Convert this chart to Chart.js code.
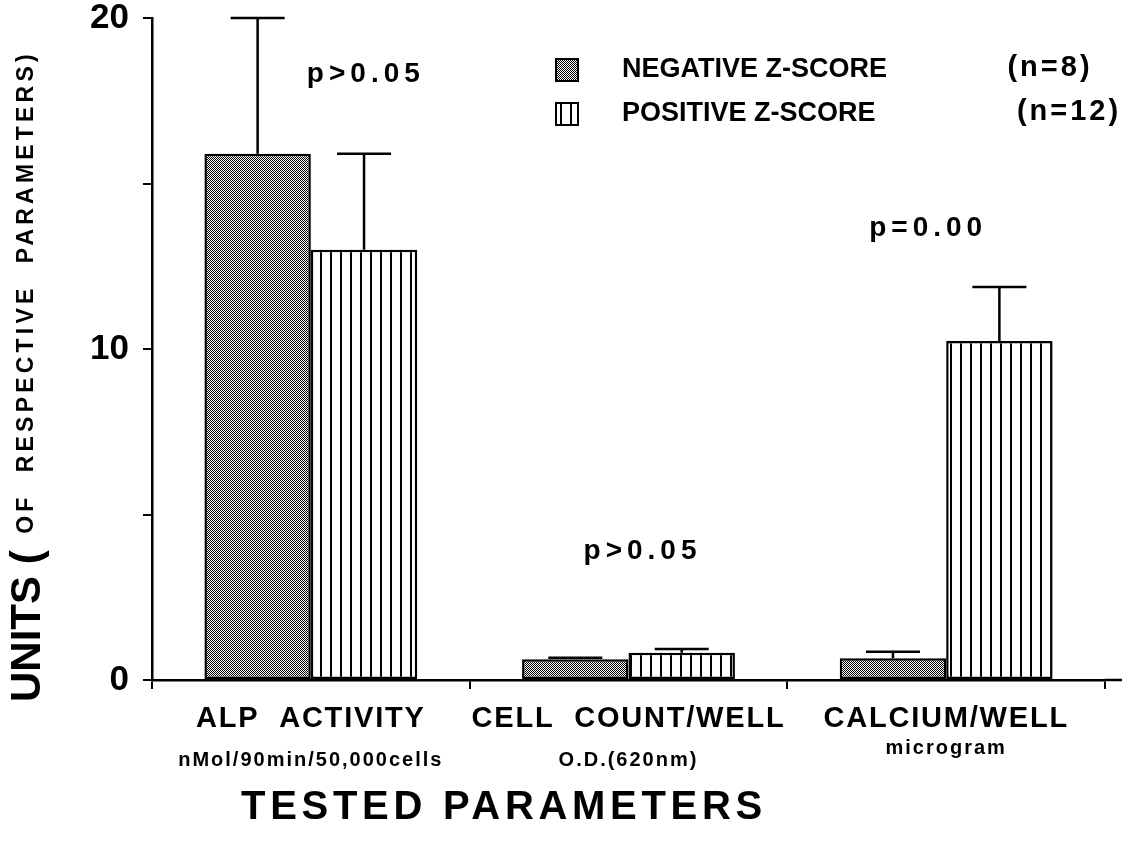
<!DOCTYPE html>
<html>
<head>
<meta charset="utf-8">
<script src="https://cdn.jsdelivr.net/npm/chart.js@4.4.1/dist/chart.umd.min.js"></script>
<style>
  html, body { margin: 0; padding: 0; background: #fff; }
  #wrap { width: 1139px; height: 845px; }
</style>
</head>
<body>
<div id="wrap"><canvas id="chart" width="1139" height="845"></canvas></div>
<script>
// values
const categories = ['ALP  ACTIVITY', 'CELL  COUNT/WELL', 'CALCIUM/WELL'];
const unitLabels = ['nMol/90min/50,000cells', 'O.D.(620nm)', 'microgram'];
const seriesNames = ['NEGATIVE Z-SCORE', 'POSITIVE Z-SCORE'];
const seriesN = ['(n=8)', '(n=12)'];
const negMean = [15.9, 0.63, 0.66];
const negErr = [4.1, 0.04, 0.19];
const posMean = [13.0, 0.82, 10.24];
const posErr = [2.9, 0.12, 1.63];
const pLabels = ['p>0.05', 'p>0.05', 'p=0.00'];
const pLabelY = [18.3, 3.9, 13.65];
const yTicks = [0, 10, 20];

const BOLD = '"Liberation Sans", Arial, Helvetica, sans-serif';

function makeChecker() {
  const c = document.createElement('canvas');
  c.width = 2; c.height = 2;
  const g = c.getContext('2d');
  g.fillStyle = '#fff'; g.fillRect(0, 0, 2, 2);
  g.fillStyle = '#000';
  g.fillRect(0, 0, 1, 1); g.fillRect(1, 1, 1, 1);
  return c;
}
function makeStripes() {
  const c = document.createElement('canvas');
  c.width = 10; c.height = 4;
  const g = c.getContext('2d');
  g.fillStyle = '#fff'; g.fillRect(0, 0, 10, 4);
  g.fillStyle = '#000'; g.fillRect(0, 0, 2, 4);
  return c;
}

const ctx = document.getElementById('chart').getContext('2d');
const checker = ctx.createPattern(makeChecker(), 'repeat');
const stripes = ctx.createPattern(makeStripes(), 'repeat');

function spacedText(g, text, x, y, spacing) {
  if ('letterSpacing' in g) {
    g.letterSpacing = spacing + 'px';
    g.fillText(text, x, y);
    g.letterSpacing = '0px';
  } else {
    g.fillText(text, x, y);
  }
}

const errorBars = {
  id: 'errorBars',
  afterDatasetsDraw(chart) {
    const g = chart.ctx;
    const y = chart.scales.y;
    const errs = [negErr, posErr];
    g.save();
    g.strokeStyle = '#000';
    g.lineWidth = 2.5;
    chart.data.datasets.forEach((ds, i) => {
      chart.getDatasetMeta(i).data.forEach((bar, j) => {
        const top = y.getPixelForValue(ds.data[j] + errs[i][j]);
        g.beginPath();
        g.moveTo(bar.x, bar.y);
        g.lineTo(bar.x, top);
        g.moveTo(bar.x - 27, top);
        g.lineTo(bar.x + 27, top);
        g.stroke();
      });
    });
    g.restore();
  }
};

const decorations = {
  id: 'decorations',
  afterDraw(chart) {
    const g = chart.ctx;
    const x = chart.scales.x;
    const y = chart.scales.y;
    const area = chart.chartArea;
    g.save();
    g.fillStyle = '#000';

    // x axis runs a little past the last category
    g.strokeStyle = '#000';
    g.lineWidth = 2.5;
    g.beginPath();
    g.moveTo(area.right, area.bottom);
    g.lineTo(area.right + 17, area.bottom);
    g.stroke();

    // category labels
    g.textAlign = 'center';
    g.textBaseline = 'middle';
    categories.forEach((c, i) => {
      const cx = x.getPixelForValue(i);
      g.font = 'bold 29px ' + BOLD;
      spacedText(g, c, cx, area.bottom + 39, 1.8);
      g.font = 'bold 20px ' + BOLD;
      spacedText(g, unitLabels[i], cx, area.bottom + (i === 2 ? 68 : 80), 2);
    });

    // axis titles
    g.font = 'bold 40px ' + BOLD;
    spacedText(g, 'TESTED PARAMETERS', 504, 808, 4.7);

    g.save();
    g.translate(28, 702);
    g.rotate(-Math.PI / 2);
    g.textAlign = 'left';
    g.font = 'bold 42px ' + BOLD;
    const big = 'UNITS (';
    spacedText(g, big, 0, 0, 0);
    const w = g.measureText(big).width;
    g.font = 'bold 23px ' + BOLD;
    spacedText(g, ' OF  RESPECTIVE  PARAMETERS)', w + 6, -1, 4.2);
    g.restore();

    // p values
    g.font = 'bold 28px ' + BOLD;
    const pOffset = [55, 14, -18];
    pLabels.forEach((p, i) => {
      spacedText(g, p, x.getPixelForValue(i) + pOffset[i], y.getPixelForValue(pLabelY[i]), 5);
    });

    // legend
    const fills = [checker, stripes];
    const rows = [70, 114];
    const nX = [1050, 1069];
    g.textAlign = 'left';
    seriesNames.forEach((name, i) => {
      const ry = rows[i];
      g.fillStyle = fills[i];
      g.fillRect(556, ry - 11, 22, 22);
      g.lineWidth = 2;
      g.strokeStyle = '#000';
      g.strokeRect(556, ry - 11, 22, 22);
      g.fillStyle = '#000';
      g.font = 'bold 27px ' + BOLD;
      spacedText(g, name, 622, ry, 0);
      g.textAlign = 'center';
      g.font = 'bold 29px ' + BOLD;
      spacedText(g, seriesN[i], nX[i], ry - 2, 3);
      g.textAlign = 'left';
    });
    g.restore();
  }
};

new Chart(ctx, {
  type: 'bar',
  data: {
    labels: categories,
    datasets: [
      {
        label: seriesNames[0],
        data: negMean,
        backgroundColor: checker,
        borderColor: '#000',
        borderWidth: 2.5,
        borderSkipped: false
      },
      {
        label: seriesNames[1],
        data: posMean,
        backgroundColor: stripes,
        borderColor: '#000',
        borderWidth: 2.5,
        borderSkipped: false
      }
    ]
  },
  options: {
    responsive: false,
    animation: false,
    devicePixelRatio: 1,
    layout: { padding: { left: 0, right: 34, top: 18, bottom: 0 } },
    datasets: {
      bar: { categoryPercentage: 0.67, barPercentage: 1.0 }
    },
    plugins: {
      legend: { display: false },
      tooltip: { enabled: false }
    },
    scales: {
      x: {
        grid: {
          display: true,
          offset: true,
          drawOnChartArea: false,
          drawTicks: true,
          tickLength: 9,
          color: '#000',
          lineWidth: 2
        },
        border: { display: true, color: '#000', width: 2.5 },
        ticks: { callback: () => '', padding: 0 },
        afterFit(scale) {
          scale.height = 165;
          scale.paddingLeft = 0;
          scale.paddingRight = 0;
        }
      },
      y: {
        min: 0,
        max: 20,
        grid: {
          display: true,
          drawOnChartArea: false,
          drawTicks: true,
          tickLength: 9,
          color: '#000',
          lineWidth: 2
        },
        border: { display: true, color: '#000', width: 2.5 },
        ticks: {
          stepSize: 5,
          padding: 14,
          color: '#000',
          font: { family: BOLD, size: 35, weight: 'bold' },
          callback: v => yTicks.includes(v) ? String(v) : ''
        },
        afterFit(scale) {
          scale.width = 152;
          scale.paddingTop = 0;
          scale.paddingBottom = 0;
        }
      }
    }
  },
  plugins: [errorBars, decorations]
});
</script>
</body>
</html>
